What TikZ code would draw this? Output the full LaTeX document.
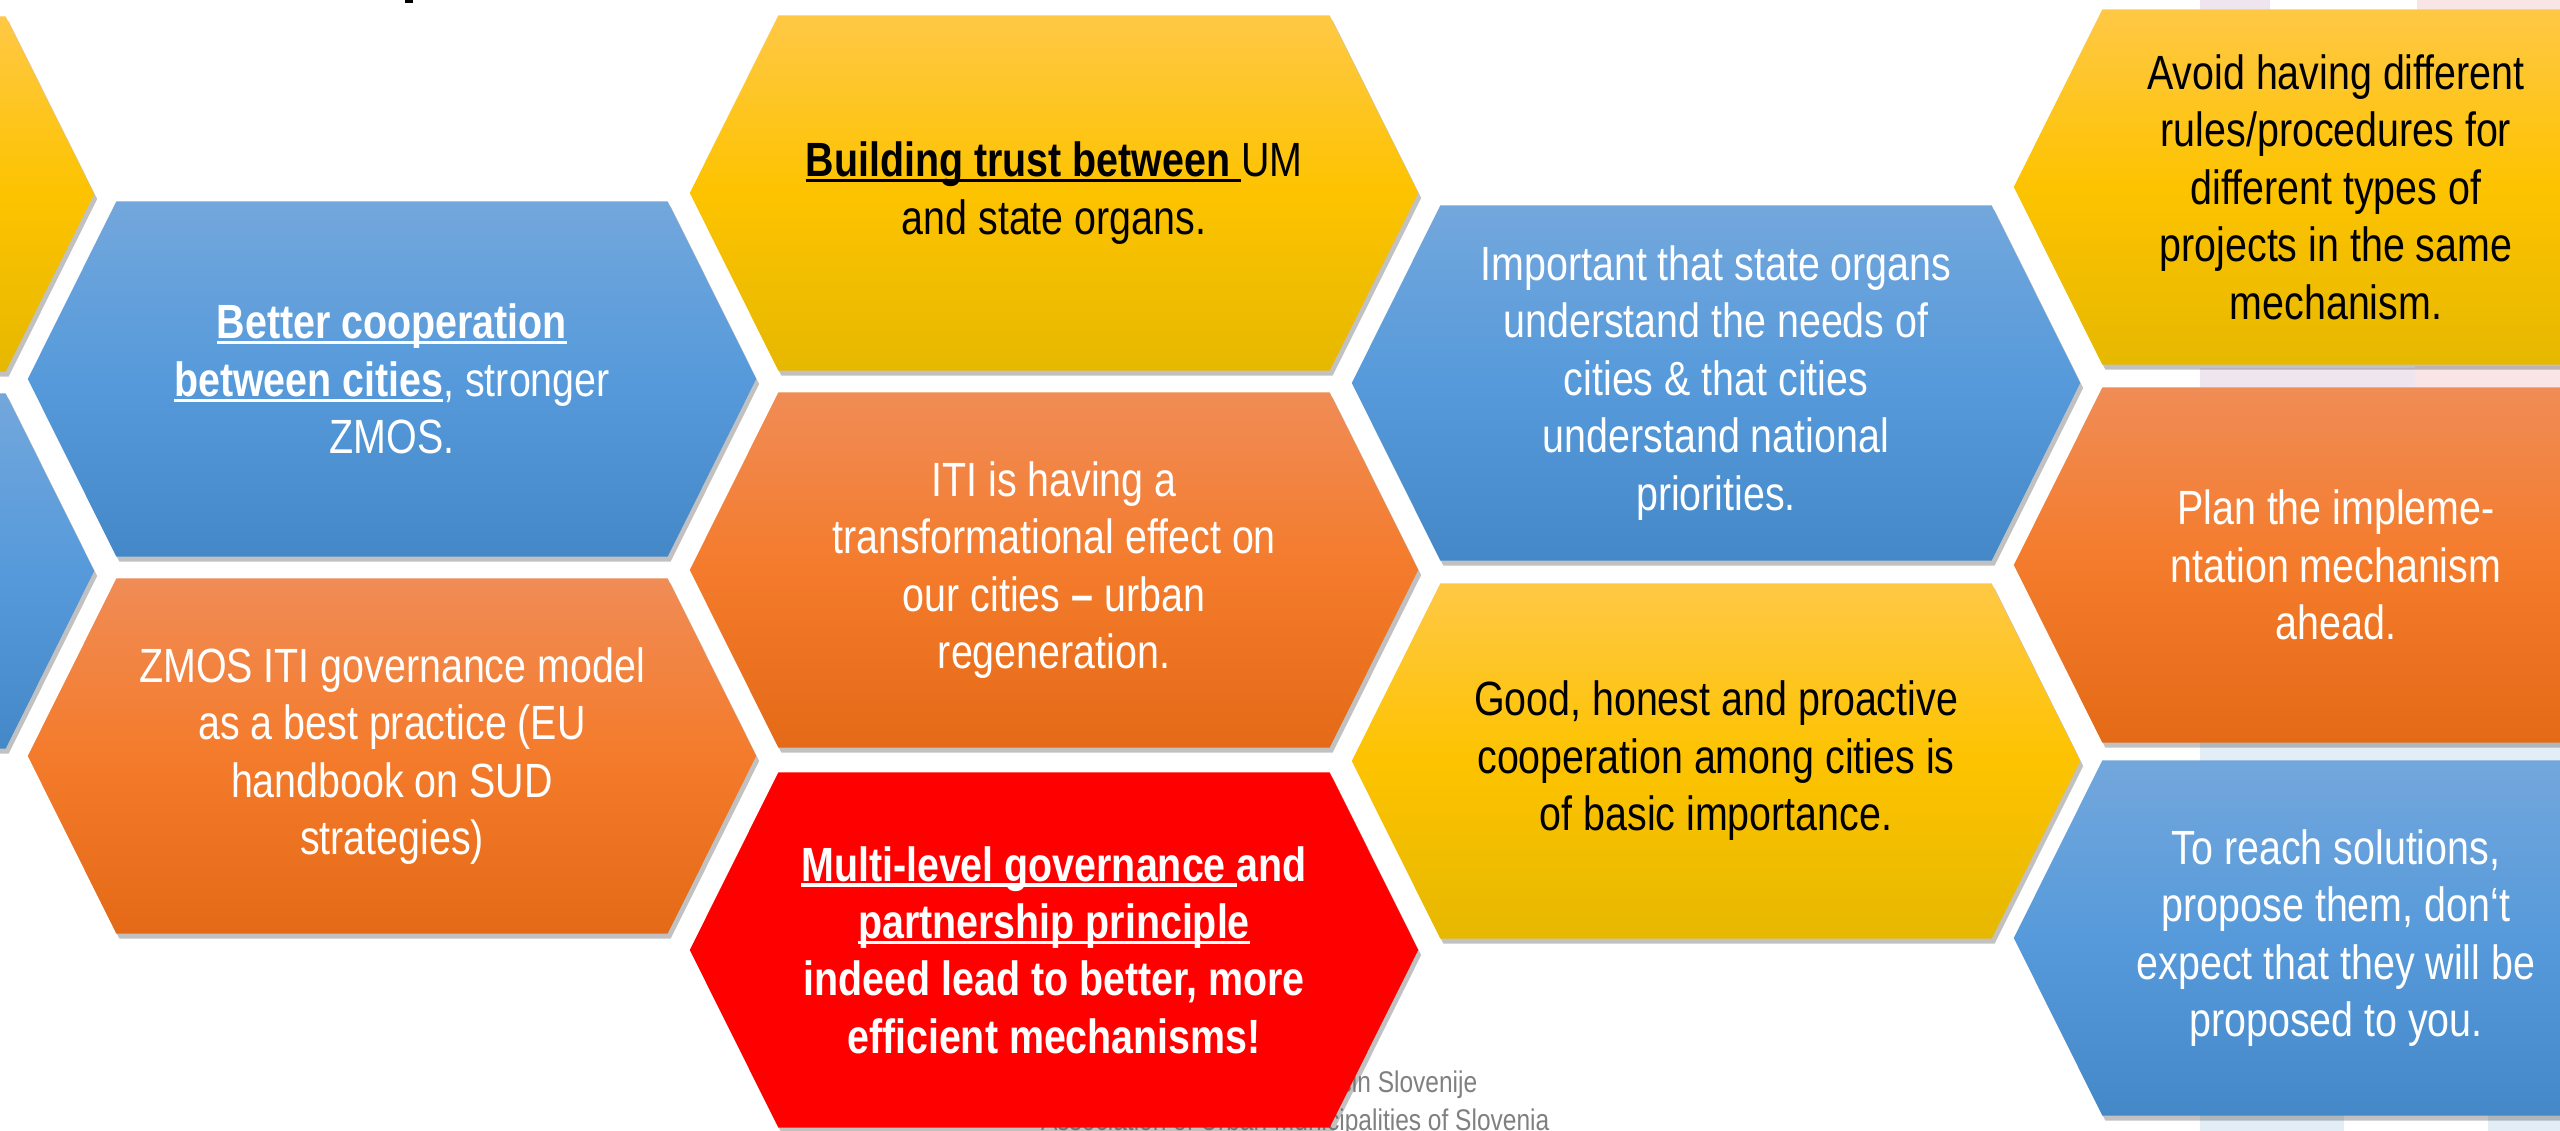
\documentclass[tikz,border=0pt]{standalone}
\usepackage{fontspec}
\setmainfont{Liberation Sans}[FakeStretch=0.82]
\usetikzlibrary{shapes.symbols, shadows}

\definecolor{bluetop}{HTML}{73A7DC}
\definecolor{bluemid}{HTML}{569ADB}
\definecolor{bluebot}{HTML}{4488C8}
\definecolor{yeltop}{HTML}{FFC845}
\definecolor{yelmid}{HTML}{FDC300}
\definecolor{yelbot}{HTML}{E6B800}
\definecolor{orgtop}{HTML}{F08C56}
\definecolor{orgmid}{HTML}{F47B2B}
\definecolor{orgbot}{HTML}{E46A17}
\definecolor{redfill}{HTML}{FF0000}
\definecolor{footgray}{HTML}{808080}
\definecolor{tilelav}{HTML}{EFE5EF}
\definecolor{tilepink}{HTML}{F9E5E6}
\definecolor{tileblue}{HTML}{E2EDF5}

\newcommand{\undl}[1]{\setbox0\hbox{#1}\rlap{\rule[-1.6pt]{\wd0}{0.9pt}}\box0}

\begin{document}
\begin{tikzpicture}[x=0.01cm, y=-0.01cm,
  hex/.style={signal, signal to=east and west, signal pointer angle=127,
              minimum width=7.28cm, minimum height=3.55cm, inner sep=0pt,
              align=center, font={\fontsize{13.66pt}{16.33pt}\selectfont},
              drop shadow={shadow xshift=0.03cm, shadow yshift=-0.05cm,
                           opacity=0.4, fill=black!60}},
  bluehex/.style={hex, top color=bluetop, bottom color=bluebot, middle color=bluemid, text=white},
  yelhex/.style={hex, top color=yeltop, bottom color=yelbot, middle color=yelmid, text=black},
  orghex/.style={hex, top color=orgtop, bottom color=orgbot, middle color=orgmid, text=white},
  redhex/.style={hex, fill=redfill, text=white,
                 font={\fontsize{13.66pt}{16.33pt}\selectfont\bfseries}},
  cellnote/.style={align=center, inner sep=0pt, font={\fontsize{13.66pt}{16.33pt}\selectfont}},
  foot/.style={anchor=base east, inner sep=0pt, text=footgray,
               font={\fontsize{8.5pt}{10pt}\selectfont}}
]
  \path[use as bounding box] (0,0) rectangle (2560,1131);
  \clip (0,0) rectangle (2560,1131);
  \fill[white] (0,0) rectangle (2560,1131);

  \fill[tilelav] (2200,0) rectangle (2270,12);
  \fill[tilepink] (2417,0) rectangle (2560,12);
  \fill[tilelav] (2200,368) rectangle (2415,388);
  \fill[tilepink] (2415,366) rectangle (2560,388);
  \fill[tileblue] (2200,742) rectangle (2560,762);
  \fill[tileblue] (2200,1114) rectangle (2344,1131);
  \fill[tileblue] (2488,1114) rectangle (2560,1131);
  \fill[black] (405,0) rectangle (413,3);

  \node[foot] (footsi) at (1478,1092) {Združenje mestnih občin Slovenije};
  \node[foot] (footen) at (1550,1130) {Association of Urban Municipalities of Slovenia};

  \node[yelhex] (edgeyel) at (-270,194) {};
  \node[bluehex] (edgeblue) at (-270,571) {};

  \node[bluehex] (coop) at (392,379)
    {\undl{\textbf{Better cooperation}}\\\undl{\textbf{between cities}}, stronger\\ZMOS.};
  \node[orghex] (zmos) at (392,756)
    {ZMOS ITI governance model\\as a best practice (EU\\handbook on SUD\\strategies)};

  \node[yelhex] (trust) at (1054,193)
    {\undl{\textbf{Building trust between }}UM\\and state organs.};
  \node[orghex] (iti) at (1054,570)
    {ITI is having a\\transformational effect on\\our cities \textbf{--} urban\\regeneration.};
  \node[redhex] (mlg) at (1054,950)
    {\undl{Multi-level governance }and\\\undl{partnership principle}\\indeed lead to better, more\\efficient mechanisms!};

  \node[bluehex] (needs) at (1716,383)
    {Important that state organs\\understand the needs of\\cities \& that cities\\understand national\\priorities.};
  \node[yelhex] (honest) at (1716,761)
    {Good, honest and proactive\\cooperation among cities is\\of basic importance.};

  \node[yelhex] (rules) at (2378,187) {};
  \node[orghex] (plan) at (2378,565) {};
  \node[bluehex] (reach) at (2378,938) {};
  \node[cellnote, text=black] (rulestext) at ([xshift=-0.42cm]rules.center)
    {Avoid having different\\rules/procedures for\\different types of\\projects in the same\\mechanism.};
  \node[cellnote, text=white] (plantext) at ([xshift=-0.42cm]plan.center)
    {Plan the impleme-\\ntation mechanism\\ahead.};
  \node[cellnote, text=white] (reachtext) at ([xshift=-0.42cm]reach.center)
    {To reach solutions,\\propose them, don‘t\\expect that they will be\\proposed to you.};
\end{tikzpicture}
\end{document}
